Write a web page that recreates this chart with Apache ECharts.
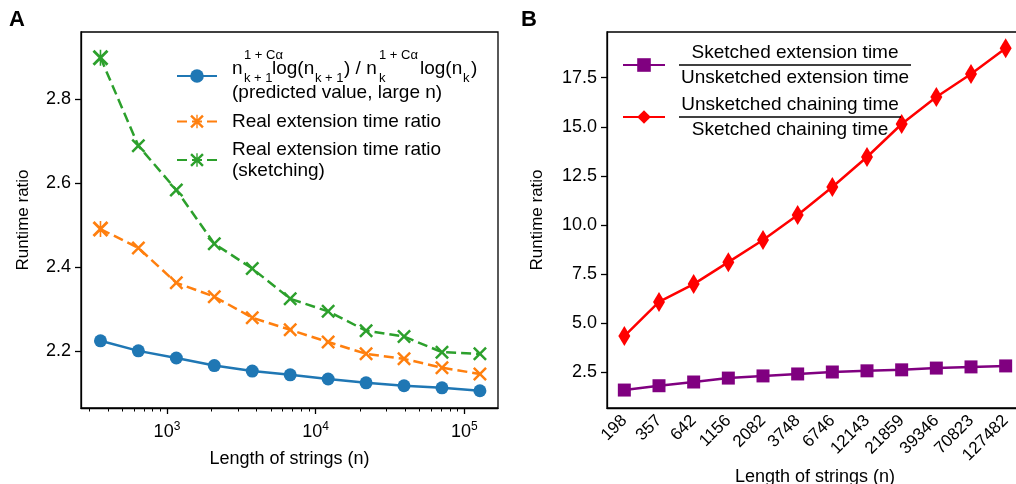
<!DOCTYPE html>
<html>
<head>
<meta charset="utf-8">
<script src="https://cdn.jsdelivr.net/npm/echarts@6/dist/echarts.min.js"></script>
<style>
html, body { margin: 0; padding: 0; background: #fff; }
#main { width: 1016px; height: 484px; }
</style>
</head>
<body>
<div id="main"></div>
<script>
// ---- panel A data ----
const lengthsA = [357, 642, 1156, 2082, 3748, 6746, 12143, 21859, 39346, 70823, 127482];
const predicted = [2.224, 2.200, 2.183, 2.165, 2.152, 2.143, 2.133, 2.124, 2.117, 2.112, 2.105];
const realExt = [2.490, 2.445, 2.362, 2.329, 2.279, 2.250, 2.221, 2.193, 2.181, 2.160, 2.145];
const realExtSketch = [2.898, 2.688, 2.583, 2.455, 2.396, 2.324, 2.294, 2.248, 2.234, 2.197, 2.193];
const yTicksA = [2.2, 2.4, 2.6, 2.8];
const xTicksA = [1000, 10000, 100000];
const xMinorA = [300, 400, 500, 600, 700, 800, 900, 2000, 3000, 4000, 5000, 6000, 7000, 8000, 9000,
    20000, 30000, 40000, 50000, 60000, 70000, 80000, 90000];

// ---- panel B data ----
const lengthsB = ['198', '357', '642', '1156', '2082', '3748', '6746', '12143', '21859', '39346', '70823', '127482'];
const sketchExt = [1.58, 1.80, 1.99, 2.19, 2.30, 2.40, 2.50, 2.56, 2.61, 2.70, 2.76, 2.81];
const chainRatio = [4.33, 6.07, 6.98, 8.10, 9.23, 10.50, 11.93, 13.46, 15.14, 16.52, 17.69, 19.00];
const yTicksB = [2.5, 5.0, 7.5, 10.0, 12.5, 15.0, 17.5];

const FONT = 'Liberation Sans, Arial, Helvetica, sans-serif';
const X_PATH = 'path://M0,2.5L2.5,0L10,7.5L17.5,0L20,2.5L12.5,10L20,17.5L17.5,20L10,12.5L2.5,20L0,17.5L7.5,10Z';
const STAR_PATH = X_PATH + 'M9,0L11,0L11,20L9,20Z';

let myChart = echarts.init(document.getElementById('main'));

function pairs(xs, ys, firstStar) {
    return xs.map(function (x, i) {
        if (firstStar && i > 0) {
            return { value: [x, ys[i]], symbol: X_PATH, symbolSize: 14 };
        }
        return [x, ys[i]];
    });
}

const axisLineStyle = { color: '#000', width: 1.3 };
const tickStyle = { color: '#000', width: 1.3 };
const labelBase = { color: '#000', fontSize: 18, fontFamily: FONT };
const nameBase = { color: '#000', fontSize: 18, fontFamily: FONT };

function sub(text, x, y) {
    return { type: 'text', style: { text: text, x: x, y: y, fontSize: 13, fontFamily: FONT, fill: '#000', verticalAlign: 'middle' } };
}
function main(text, x, y) {
    return { type: 'text', style: { text: text, x: x, y: y, fontSize: 19, fontFamily: FONT, fill: '#000', verticalAlign: 'middle' } };
}

let option = {
    animation: false,
    backgroundColor: '#fff',
    title: [
        { text: 'A', left: 9, top: 9, padding: 0, textStyle: { fontSize: 22, fontWeight: 'bold', color: '#000', fontFamily: FONT } },
        { text: 'B', left: 521, top: 9, padding: 0, textStyle: { fontSize: 22, fontWeight: 'bold', color: '#000', fontFamily: FONT } }
    ],
    grid: [
        { left: 81, top: 32, width: 417, height: 376, show: true, borderColor: '#000', borderWidth: 1.3, outerBoundsMode: 'none' },
        { left: 607, top: 32, width: 416, height: 376, show: true, borderColor: '#000', borderWidth: 1.3, outerBoundsMode: 'none' }
    ],
    legend: [
        {
            left: 176, top: 48, padding: 0, itemWidth: 40, itemHeight: 17, itemGap: 7,
            orient: 'vertical', selectedMode: false,
            data: ['predicted', 'Real extension time ratio', 'Real extension time ratio (sketching)'],
            textStyle: {
                fontSize: 19, fontFamily: FONT, color: '#000', lineHeight: 21,
                rich: {
                    sp: { width: 10 },
                    e: { lineHeight: 34 },
                    p: { fontSize: 19, lineHeight: 22 }
                }
            },
            formatter: function (name) {
                if (name === 'predicted') return '{e| }\n{sp| }{p|(predicted value, large n)}';
                if (name === 'Real extension time ratio') return '{sp| }Real extension time ratio';
                return '{sp| }Real extension time ratio\n{sp| }(sketching)';
            }
        },
        {
            left: 622, top: 42, padding: 0, itemWidth: 42, itemHeight: 17, itemGap: 6,
            orient: 'vertical', selectedMode: false,
            data: ['Sketched extension time / Unsketched extension time', 'Unsketched chaining time / Sketched chaining time'],
            textStyle: {
                fontSize: 19, fontFamily: FONT, color: '#000', lineHeight: 21,
                rich: {
                    sp: { width: 9 },
                    spb: { width: 9, fontSize: 1, lineHeight: 4 },
                    n1: { width: 232, align: 'center', lineHeight: 21, fontSize: 19 },
                    b1: { width: 232, height: 1.6, fontSize: 1, lineHeight: 4, backgroundColor: '#000' },
                    n2: { width: 222, align: 'center', lineHeight: 21, fontSize: 19 },
                    b2: { width: 222, height: 1.6, fontSize: 1, lineHeight: 4, backgroundColor: '#000' }
                }
            },
            formatter: function (name) {
                const parts = name.split(' / ');
                const k = name.indexOf('Sketched') === 0 ? '1' : '2';
                return '{sp| }{n' + k + '|' + parts[0] + '}\n{spb| }{b' + k + '| }\n{sp| }{n' + k + '|' + parts[1] + '}';
            }
        }
    ],
    graphic: [
        {
            type: 'group', silent: true,
            children: [
                main('n', 232, 69),
                sub('1 + C\u03b1', 244, 55),
                sub('k + 1', 244, 78),
                main('log(n', 272, 69),
                sub('k + 1', 315, 78),
                main(') / n', 344, 69),
                sub('1 + C\u03b1', 379, 55),
                sub('k', 379, 78),
                main('log(n', 420, 69),
                sub('k', 463, 78),
                main(')', 471, 69)
            ]
        }
    ],
    xAxis: [
        {
            type: 'log', logBase: 10, gridIndex: 0, position: 'bottom', min: 264, max: 168700,
            axisLine: { lineStyle: axisLineStyle },
            axisTick: { customValues: xTicksA, length: 6, lineStyle: tickStyle },
            axisLabel: Object.assign({}, labelBase, {
                customValues: xTicksA, margin: 13,
                formatter: function (v) { return '10{s|' + Math.round(Math.log10(v)) + '}'; },
                rich: { s: { fontSize: 12, fontFamily: FONT, color: '#000', verticalAlign: 'top', padding: [0, 0, 10, 0] } }
            }),
            splitLine: { show: false },
            name: 'Length of strings (n)', nameLocation: 'middle', nameGap: 42, nameTextStyle: nameBase
        },
        {
            type: 'log', logBase: 10, gridIndex: 0, position: 'bottom', min: 264, max: 168700,
            axisLine: { show: false },
            axisTick: { customValues: xMinorA, length: 3.5, lineStyle: { color: '#000', width: 1 } },
            axisLabel: { show: false },
            splitLine: { show: false }
        },
        {
            type: 'category', gridIndex: 1, data: lengthsB, boundaryGap: true,
            axisLine: { lineStyle: axisLineStyle },
            axisTick: { alignWithLabel: true, length: 6, lineStyle: tickStyle },
            axisLabel: Object.assign({}, labelBase, { rotate: 45, interval: 0, fontSize: 17, margin: 10 }),
            splitLine: { show: false },
            name: 'Length of strings (n)', nameLocation: 'middle', nameGap: 60, nameMoveOverlap: false,
            nameTextStyle: nameBase
        }
    ],
    yAxis: [
        {
            type: 'value', gridIndex: 0, min: 2.064, max: 2.959,
            axisLine: { show: true, lineStyle: axisLineStyle },
            axisTick: { show: true, customValues: yTicksA, length: 6, lineStyle: tickStyle },
            axisLabel: Object.assign({}, labelBase, { customValues: yTicksA, margin: 10, formatter: function (v) { return v.toFixed(1); } }),
            splitLine: { show: false },
            name: 'Runtime ratio', nameLocation: 'middle', nameGap: 49, nameTextStyle: Object.assign({}, nameBase, { fontSize: 17 })
        },
        {
            type: 'value', gridIndex: 1, min: 0.665, max: 19.83,
            axisLine: { show: true, lineStyle: axisLineStyle },
            axisTick: { show: true, customValues: yTicksB, length: 6, lineStyle: tickStyle },
            axisLabel: Object.assign({}, labelBase, { customValues: yTicksB, margin: 10, formatter: function (v) { return v.toFixed(1); } }),
            splitLine: { show: false },
            name: 'Runtime ratio', nameLocation: 'middle', nameGap: 61, nameTextStyle: Object.assign({}, nameBase, { fontSize: 17 })
        }
    ],
    series: [
        {
            name: 'predicted', type: 'line', xAxisIndex: 0, yAxisIndex: 0,
            data: pairs(lengthsA, predicted, false),
            symbol: 'circle', symbolSize: 13,
            lineStyle: { color: '#1f77b4', width: 2.5 },
            itemStyle: { color: '#1f77b4' }
        },
        {
            name: 'Real extension time ratio', type: 'line', xAxisIndex: 0, yAxisIndex: 0,
            data: pairs(lengthsA, realExt, true),
            symbol: STAR_PATH, symbolSize: 16,
            lineStyle: { color: '#ff7f0e', width: 2.5, type: [10, 5] },
            itemStyle: { color: '#ff7f0e' }
        },
        {
            name: 'Real extension time ratio (sketching)', type: 'line', xAxisIndex: 0, yAxisIndex: 0,
            data: pairs(lengthsA, realExtSketch, true),
            symbol: STAR_PATH, symbolSize: 16,
            lineStyle: { color: '#2ca02c', width: 2.5, type: [10, 5] },
            itemStyle: { color: '#2ca02c' }
        },
        {
            name: 'Sketched extension time / Unsketched extension time', type: 'line', xAxisIndex: 2, yAxisIndex: 1,
            data: sketchExt,
            symbol: 'rect', symbolSize: 13,
            lineStyle: { color: '#800080', width: 2.5 },
            itemStyle: { color: '#800080' }
        },
        {
            name: 'Unsketched chaining time / Sketched chaining time', type: 'line', xAxisIndex: 2, yAxisIndex: 1,
            data: chainRatio,
            symbol: 'diamond', symbolSize: [12, 20],
            lineStyle: { color: '#ff0000', width: 2.5 },
            itemStyle: { color: '#ff0000' }
        }
    ]
};
myChart.setOption(option);
window.onresize = function () {
    myChart.resize();
};
</script>
</body>
</html>
